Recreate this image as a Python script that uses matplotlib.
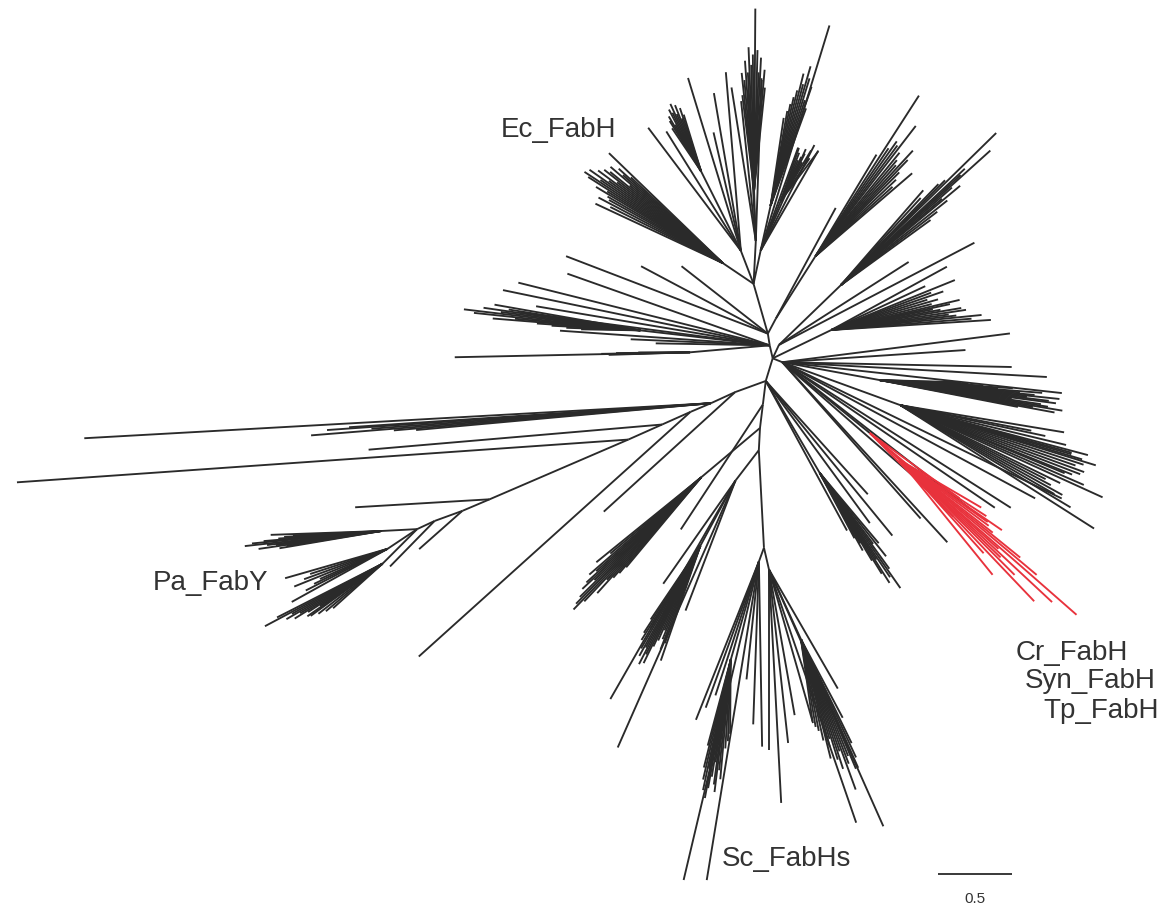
import numpy as np
import matplotlib
matplotlib.use("Agg")
import matplotlib.pyplot as plt
from matplotlib.collections import LineCollection

INK = "#2a2a2a"
RED = "#e8323c"
TEXT = "#333333"

# Internal nodes of the unrooted tree: (name, parent, direction in degrees, branch length)
internal_nodes = [
    ("T2", "R", 103, 0.09),
    ("T1", "T2", 99, 0.08),
    ("E0", "T1", 106, 0.35),
    ("EA", "E0", 146, 0.25),
    ("EB", "E0", 111, 0.24),
    ("EB2", "EB", 116.6, 0.6),
    ("EC", "E0", 87, 0.29),
    ("EC2", "EC", 92, 0.34),
    ("ED", "E0", 78, 0.23),
    ("ED2", "ED", 77.5, 0.31),
    ("ED3", "ED", 68, 0.36),
    ("LHa", "T2", 173.4, 0.88),
    ("LHb", "T2", 185, 0.54),
    ("UA", "T1", 62, 0.115),
    ("UA2", "UA", 57.6, 0.5),
    ("UB", "R", 65, 0.1),
    ("UB2", "UB", 44, 0.58),
    ("UC2", "R", 25.8, 0.44),
    ("Rr", "R", 338, 0.07),
    ("UD2", "Rr", -10.4, 0.67),
    ("LRa2", "Rr", -20, 0.85),
    ("RC", "Rr", -39, 0.76),
    ("RC2", "RC", -42, 0.27),
    ("D1", "R", 253, 0.16),
    ("LRc2", "D1", -59.6, 0.72),
    ("D3", "D1", 263, 0.16),
    ("D4", "D3", 263, 0.16),
    ("D5", "D4", 267, 0.15),
    ("S0", "D5", 273, 0.66),
    ("Sl", "S0", 250, 0.10),
    ("Sl2", "Sl", 254, 0.69),
    ("Sr", "S0", 283, 0.15),
    ("Sr2", "Sr", 294.6, 0.52),
    ("LLa", "D4", 220, 0.52),
    ("LLb", "D5", 232.5, 0.26),
    ("LLb2", "LLb", 241.7, 0.5),
    ("K1", "D1", 200, 0.22),
    ("K2", "K1", 204.6, 0.18),
    ("K3", "K2", 203, 0.15),
    ("K4", "K3", 204, 0.21),
    ("K5", "K4", 204, 0.25),
    ("K6", "K5", 203.3, 1.02),
    ("PA", "K6", 203, 0.2),
    ("PB", "PA", 200, 0.2),
    ("PC", "PB", 205, 0.13),
    ("PC1", "PC", 183, 0.24),
    ("PC2", "PC", 213.7, 0.24),
    ("PC3", "PC", 225, 0.33),
]
red_nodes = ["RC2"]

# Terminal branches, grouped by the node they hang from
ec_a_ang = [136, 137, 137.8, 138.6, 139.4, 140.2, 141, 141.8, 142.6, 143.4, 144.2,
            145, 145.8, 146.6, 147.4, 148.2, 149, 150, 151, 152.2, 153.5, 155]
ec_a_len = [1.07, 0.85, 0.95, 0.9, 1.0, 0.82, 0.98, 1.02, 0.9, 1.05, 0.95,
            1.1, 1.0, 1.12, 1.08, 0.92, 1.0, 0.9, 0.88, 0.95, 0.85, 0.95]
ec_b_ang = [94.8, 99.7, 103, 107, 122, 127]
ec_b_len = [1.21, 1.08, 0.82, 1.22, 0.95, 1.04]
ec_b2_ang = [107, 108.5, 110, 111.5, 113, 114.5, 116, 117.5, 119, 120.5, 122, 124]
ec_b2_len = [0.4, 0.45, 0.38, 0.48, 0.42, 0.5, 0.44, 0.47, 0.36, 0.43, 0.4, 0.35]
ec_c_ang = [88, 93, 96, 99]
ec_c_len = [1.1, 1.0, 0.95, 1.05]
ec_c2_ang = [84, 85, 86, 87, 87.8, 88.6, 89.6, 90.5, 91.3, 92.2, 93, 94, 95, 96, 97]
ec_c2_len = [0.7, 0.82, 0.75, 0.9, 0.8, 0.95, 1.23, 0.92, 0.85, 0.97, 0.8, 0.88, 0.75,
             0.8, 0.65]
ec_d_ang = [60, 63, 66, 70, 73]
ec_d_len = [0.78, 0.8, 0.75, 0.74, 1.59]
ec_d2_ang = [70, 71, 72, 73, 74, 75, 76, 77, 78, 79, 80, 81.5]
ec_d2_len = [0.7, 0.85, 0.75, 0.9, 0.98, 0.85, 0.92, 0.8, 0.75, 0.7, 0.65, 0.6]
ec_d3_ang = [53, 56, 59, 61, 63, 65, 67, 69, 71]
ec_d3_len = [0.42, 0.35, 0.4, 0.3, 0.36, 0.33, 0.3, 0.35, 0.38]
ec_low_ang = [142, 152, 159]
ec_low_len = [0.74, 0.97, 1.46]

lh_ang = [160.5, 166, 168.3, 170.5, 172.5, 176, 177.5, 179]
lh_len = [1.45, 1.75, 1.84, 1.6, 1.7, 1.42, 0.94, 0.77]
lh_a_ang = [170, 171, 171.8, 172.5, 173.2, 174, 174.7, 175.4, 176.2, 177, 178, 179]
lh_a_len = [1.0, 0.9, 1.07, 0.95, 1.2, 1.13, 0.85, 1.0, 0.7, 0.6, 0.5, 0.4]
lh_b_ang = [180.2, 180.6, 181, 181.2, 181.5, 181.8]
lh_b_len = [0.35, 0.5, 0.6, 1.59, 0.45, 0.55]

ua_ang = [61.6]
ua_len = [0.85]
ua2_ang = [40.6, 42, 43.5, 45, 46.2, 47.3, 48.5, 49.7, 50.9, 52.4, 53.5, 54.7, 55.9, 57.2, 59]
ua2_len = [0.86, 0.7, 0.75, 0.8, 0.9, 0.97, 0.82, 0.85, 0.9, 1.11, 0.93, 0.95, 0.88, 1.29, 0.8]
ub_ang = [27.6, 32.6]
ub_len = [1.49, 1.04]
ub2_ang = [36, 37.3, 38.5, 39.8, 40.5, 41.3, 42, 42.6, 43.2, 44.4, 45.2, 46, 47.5, 49]
ub2_len = [0.75, 0.82, 0.92, 1.05, 0.9, 1.0, 1.36, 1.1, 1.15, 1.47, 1.0, 0.95, 0.8, 0.85]
uc_ang = [3.6, 4.6, 5.7, 6.6, 7.5, 8.5, 9.6, 10.5, 11.5, 12.3, 13.2, 14.5, 16, 17.5,
          19, 20.5, 22, 25, 28.7]
uc_len = [1.08, 0.95, 1.02, 0.85, 0.8, 0.92, 0.89, 0.75, 0.7, 0.82, 0.89, 0.7, 0.75, 0.68,
          0.8, 0.72, 0.9, 0.7, 0.89]
ud_ang = [7.2, 3.8, -1.2, -3.2, -6.3]
ud_len = [1.55, 1.24, 1.55, 1.79, 1.9]
ud2_ang = [-11, -10.5, -10, -9.5, -9, -8.5, -8, -7.5, -7, -6.5, -6, -5.5, -5, -4.5,
           -4, -3.5, -3, -2.5, -2, -1.5]
ud2_len = [0.95, 1.2, 1.05, 1.25, 1.15, 1.1, 0.9, 1.2, 1.15, 1.0, 1.22, 1.05, 0.95, 1.1,
           0.8, 0.9, 0.7, 0.6, 0.55, 0.5]

lra_ang = [-9.4, -11, -12, -13.5, -14.9, -15.5, -16, -16.6, -17.1, -18, -19, -20,
           -21, -22, -22.5, -23.5, -24.5, -26, -27, -28, -29, -30, -31, -32.5]
lra_len = [1.12, 0.9, 1.0, 1.15, 1.31, 1.2, 1.2, 1.28, 1.38, 1.3, 1.25, 1.32,
           1.3, 1.25, 1.2, 1.35, 1.5, 1.2, 1.1, 1.15, 1.25, 1.2, 1.34, 1.55]
lrb_ang = [-26, -28.3, -32.5, -34.4, -38, -41, -47.5, -48.5]
lrb_len = [2.1, 1.94, 1.83, 1.74, 1.6, 1.5, 1.65, 1.41]
red_ang = [-36, -40, -45]
red_len = [0.75, 0.65, 0.8]
red2_ang = [-30.3, -33, -34.5, -35.2, -36.5, -38, -39, -40, -41.2, -42, -43, -44,
            -45, -46.4, -48, -51]
red2_len = [0.64, 0.7, 0.84, 0.73, 0.75, 0.8, 1.05, 1.21, 1.59, 0.9, 1.41, 0.95,
            1.1, 1.32, 0.85, 1.0]
lrc_ang = [-48, -50.7, -53.8, -61.5]
lrc_len = [1.03, 1.35, 1.19, 1.15]
lrc2_ang = [-50, -51.5, -53, -54, -55, -56, -56.8, -57.6, -58.4, -59.2, -60, -61, -62]
lrc2_len = [0.62, 0.72, 0.6, 0.8, 0.95, 0.85, 0.7, 0.88, 0.8, 0.69, 0.55, 0.6, 0.5]

lla_ang = [219, 220, 221, 221.8, 222.5, 223.2, 223.9, 224.6, 225.3, 226, 226.7, 227.4,
           228.1, 228.8, 229.5, 230.2]
lla_len = [0.91, 0.8, 1.0, 0.95, 1.05, 1.1, 1.0, 1.15, 1.2, 1.24, 1.15, 0.94,
           1.05, 0.9, 0.85, 0.79]
d3_ang = [236.7]
d3_len = [1.01]
llb_ang = [235, 240.2, 246.2, 249]
llb_len = [0.85, 1.7, 1.97, 0.94]
llb2_ang = [236, 237, 238, 239, 240, 241, 241.8, 242.6, 243.4, 244.2, 245, 246, 247,
            248, 249, 250, 251]
llb2_len = [0.6, 0.7, 0.75, 0.65, 0.8, 0.85, 0.78, 0.9, 0.82, 0.88, 0.75, 0.7, 0.62,
            0.68, 0.75, 0.7, 0.82]

k1_ang, k1_len = [222.3], [1.2]
k2_ang = [183.2, 183.8, 184.0, 184.3, 184.6, 184.9, 185.2]
k2_len = [4.24, 2.45, 2.6, 2.3, 2.71, 2.15, 2.0]
k3_ang, k3_len = [222], [2.47]
k4_ang, k4_len = [184.9], [1.99]
k5_ang, k5_len = [184], [4.14]
k6_ang, k6_len = [183.4], [0.91]
pa_ang, pa_len = [221.5], [0.39]
pb_ang, pb_len = [225.6], [0.43]
pc1_ang = [182, 182.8, 183.5, 184.2, 184.9, 185.5, 186.3, 187, 187.6, 188.3, 189, 189.6]
pc1_len = [0.75, 0.6, 0.66, 0.7, 0.8, 0.88, 0.93, 0.78, 0.72, 0.84, 0.65, 0.7]
pc2_ang = [196, 198, 200, 202, 204, 205.5, 207, 209]
pc2_len = [0.72, 0.55, 0.6, 0.68, 0.5, 0.55, 0.62, 0.74]
pc3_ang = [207, 208, 209, 210, 211, 212, 213, 214, 215, 216, 218, 220, 222]
pc3_len = [0.8, 0.9, 0.7, 0.75, 0.65, 0.7, 0.6, 0.51, 0.62, 0.6, 0.55, 0.5, 0.45]

sl_ang = [248.3, 250, 252, 256.7, 260.7, 264, 268, 271]
sl_len = [1.15, 1.05, 0.95, 2.21, 2.18, 0.8, 1.1, 1.25]
sl2_ang = [255, 256, 257, 258, 258.7, 259.4, 260, 260.8, 261.5, 262.3, 263, 264, 265,
           266.5, 268, 269.5]
sl2_len = [0.6, 0.75, 0.83, 0.9, 0.75, 0.95, 0.88, 0.8, 0.7, 0.85, 0.9, 0.75, 0.81,
           0.6, 0.55, 0.5]
sr_ang = [270, 273, 276.3, 280, 286, 289, 294, 300]
sr_len = [1.22, 1.58, 1.18, 1.0, 1.08, 1.81, 1.9, 0.93]
sr2_ang = [278, 279.5, 281, 282.5, 284, 285, 286, 287, 288, 289, 290, 291, 292, 293,
           294, 295, 296, 298]
sr2_len = [0.56, 0.6, 0.63, 0.7, 0.83, 0.75, 0.7, 0.85, 0.92, 0.8, 1.08, 0.9, 0.85, 0.95,
           0.95, 0.88, 0.78, 0.6]

leaf_groups = [
    ("EA", ec_a_ang, ec_a_len, INK), ("EB", ec_b_ang, ec_b_len, INK),
    ("EB2", ec_b2_ang, ec_b2_len, INK),
    ("EC", ec_c_ang, ec_c_len, INK), ("EC2", ec_c2_ang, ec_c2_len, INK),
    ("ED", ec_d_ang, ec_d_len, INK), ("ED2", ec_d2_ang, ec_d2_len, INK),
    ("ED3", ec_d3_ang, ec_d3_len, INK),
    ("T1", ec_low_ang, ec_low_len, INK),
    ("T2", lh_ang, lh_len, INK), ("LHa", lh_a_ang, lh_a_len, INK),
    ("LHb", lh_b_ang, lh_b_len, INK),
    ("UA", ua_ang, ua_len, INK), ("UA2", ua2_ang, ua2_len, INK),
    ("UB", ub_ang, ub_len, INK), ("UB2", ub2_ang, ub2_len, INK),
    ("UC2", uc_ang, uc_len, INK),
    ("Rr", ud_ang, ud_len, INK), ("UD2", ud2_ang, ud2_len, INK),
    ("LRa2", lra_ang, lra_len, INK), ("Rr", lrb_ang, lrb_len, INK),
    ("RC", red_ang, red_len, RED), ("RC2", red2_ang, red2_len, RED),
    ("D1", lrc_ang, lrc_len, INK), ("LRc2", lrc2_ang, lrc2_len, INK),
    ("LLa", lla_ang, lla_len, INK), ("D3", d3_ang, d3_len, INK),
    ("LLb", llb_ang, llb_len, INK), ("LLb2", llb2_ang, llb2_len, INK),
    ("K1", k1_ang, k1_len, INK), ("K2", k2_ang, k2_len, INK),
    ("K3", k3_ang, k3_len, INK), ("K4", k4_ang, k4_len, INK),
    ("K5", k5_ang, k5_len, INK), ("K6", k6_ang, k6_len, INK),
    ("PA", pa_ang, pa_len, INK), ("PB", pb_ang, pb_len, INK),
    ("PC1", pc1_ang, pc1_len, INK), ("PC2", pc2_ang, pc2_len, INK),
    ("PC3", pc3_ang, pc3_len, INK),
    ("Sl", sl_ang, sl_len, INK), ("Sl2", sl2_ang, sl2_len, INK),
    ("Sr", sr_ang, sr_len, INK), ("Sr2", sr2_ang, sr2_len, INK),
]

clade_labels = ["Ec_FabH", "Pa_FabY", "Sc_FabHs", "Cr_FabH", "Syn_FabH", "Tp_FabH"]
scale_length = 0.5


def step(origin, angle, length):
    a = np.deg2rad(angle)
    return (origin[0] + length * np.cos(a), origin[1] + length * np.sin(a))


pos = {"R": (0.0, 0.0)}
segments, colors = [], []
for name, parent, ang, ln in internal_nodes:
    pos[name] = step(pos[parent], ang, ln)
    segments.append([pos[parent], pos[name]])
    colors.append(RED if name in red_nodes else INK)

for node, angs, lens, col in leaf_groups:
    for a, l in zip(angs, lens):
        segments.append([pos[node], step(pos[node], a, l)])
        colors.append(col)

fig = plt.figure(figsize=(11.62, 9.15), dpi=100)
ax = fig.add_axes([0, 0, 1, 1])
ax.add_collection(LineCollection(segments, colors=colors, linewidths=1.35,
                                 capstyle="butt"))
ax.set_xlim(-5.22, 2.63)
ax.set_ylim(-3.76, 2.42)
ax.set_aspect("equal")
ax.axis("off")

font = dict(family=["Liberation Sans", "DejaVu Sans"], color=TEXT)
ax.text(-1.45, 1.54, clade_labels[0], fontsize=20, ha="center", va="center", **font)
ax.text(-3.80, -1.52, clade_labels[1], fontsize=20, ha="center", va="center", **font)
ax.text(0.09, -3.38, clade_labels[2], fontsize=20, ha="center", va="center", **font)
ax.text(1.64, -1.99, clade_labels[3], fontsize=20, ha="left", va="center", **font)
ax.text(1.70, -2.18, clade_labels[4], fontsize=20, ha="left", va="center", **font)
ax.text(1.83, -2.38, clade_labels[5], fontsize=20, ha="left", va="center", **font)

# scale bar
sx, sy = 1.115, -3.486
ax.plot([sx, sx + scale_length], [sy, sy], color=INK, lw=1.3, solid_capstyle="butt")
ax.text(sx + scale_length / 2, sy - 0.165, f"{scale_length}", fontsize=11,
        ha="center", va="center", **font)

fig.savefig("out.png", dpi=100, facecolor="white")
